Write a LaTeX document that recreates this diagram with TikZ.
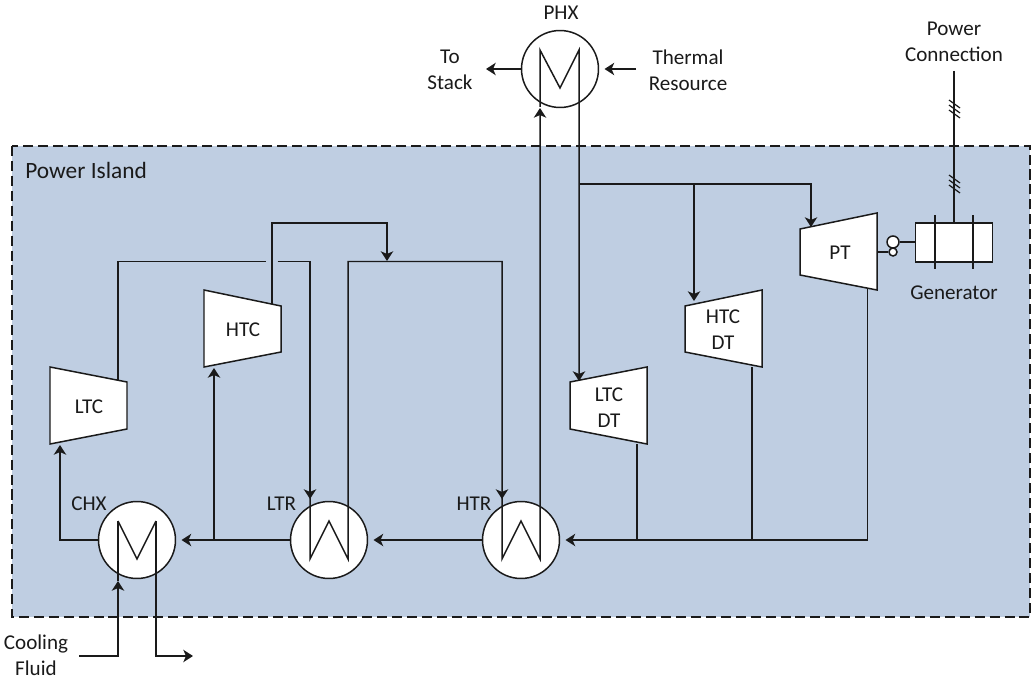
\documentclass[tikz,border=0pt]{standalone}
\usepackage{fontspec}
\setmainfont{Carlito}
\usetikzlibrary{arrows.meta}
\definecolor{island}{HTML}{BFCEE2}
\definecolor{ink}{HTML}{1A1A1A}
\tikzset{
  line/.style={draw=ink,line width=0.85pt},
  flow/.style={line,-{Stealth[length=5.5pt,width=7pt,inset=1.5pt]}},
  hx/.style={line,circle,fill=white,minimum size=1.54cm,inner sep=0pt},
  mach/.style={line,fill=white,line join=miter},
  lab/.style={text=ink,align=center,inner sep=0pt,font=\fontsize{12}{14.7}\selectfont}
}
\begin{document}
\begin{tikzpicture}[x=0.02cm,y=-0.02cm]
\useasboundingbox (0,0) rectangle (1031,679);
\fill[island] (12,146) rectangle (1030,617);
\draw[line,dash pattern=on 5.7pt off 2.8pt] (12,146) rectangle (1030,617);

\node[hx] (phx) at (560,69) {};
\node[hx] (chx) at (137,540) {};
\node[hx] (ltr) at (329,540) {};
\node[hx] (htr) at (521,540) {};

\draw[mach] (204,290) -- (281,306) -- (281,352) -- (204,367) -- cycle;
\draw[mach] (50,367) -- (127,382) -- (127,429) -- (50,444) -- cycle;
\draw[mach] (685,306) -- (762,290) -- (762,367) -- (685,352) -- cycle;
\draw[mach] (570,382) -- (647,367) -- (647,444) -- (570,429) -- cycle;
\draw[mach] (800,229) -- (877,213) -- (877,290) -- (800,275) -- cycle;
\draw[mach] (915.5,223) rectangle (992.5,262);
\draw[line] (935,215) -- (935,269);
\draw[line] (973,215) -- (973,269);

\node[lab] (phxlab) at (561,13) {PHX};
\node[lab] (stack) at (450,70) {To\\Stack};
\node[lab] (thermal) at (688,70) {Thermal\\Resource};
\node[lab] (conn) at (954,41.5) {Power\\Connection};
\node[lab] (gen) at (954,292.5) {Generator};
\node[lab,anchor=west,font=\fontsize{13.3}{15}\selectfont] (island) at (25,170.5) {Power Island};
\node[lab] (chxlab) at (89,504) {CHX};
\node[lab] (ltrlab) at (281.5,504) {LTR};
\node[lab] (htrlab) at (474,504) {HTR};
\node[lab] (cool) at (36,655) {Cooling\\Fluid};
\node[lab] (htc) at (243,330) {HTC};
\node[lab] (ltc) at (89,407) {LTC};
\node[lab] (htcdt) at (723,330) {HTC\\DT};
\node[lab] (ltcdt) at (609,408) {LTC\\DT};
\node[lab] (pt) at (840,253) {PT};

\coordinate (stackend) at (486,69);
\coordinate (thermalin) at (636,69);
\coordinate (coolin) at (79,656);
\coordinate (coolout) at (193,656);
\coordinate (ptout) at (867.5,289);
\coordinate (htcdtout) at (752,367);
\coordinate (htcdtj) at (752,540);
\coordinate (ltcdtout) at (637,444);
\coordinate (ltcdtj) at (637,540);
\coordinate (ltcin) at (60,445);
\coordinate (ltcout) at (118,380);
\coordinate (htcj) at (214,540);
\coordinate (htcin) at (214,368);
\coordinate (htcout) at (272,304);
\coordinate (mixin) at (387,261);
\coordinate (gapl) at (265.5,261.5);
\coordinate (gapr) at (277.5,261.5);
\coordinate (ltrin) at (310,499);
\coordinate (htrin) at (502,499);
\coordinate (phxin) at (540,108);
\coordinate (chxin) at (118,581);
\coordinate (phxj) at (579,184);
\coordinate (ptin) at (811,227);
\coordinate (htcdtin) at (694,301);
\coordinate (ltcdtin) at (579,381);
\coordinate (gentop) at (954,223);
\coordinate (connend) at (954,71);

\draw[line] (118,521) -- (chxin);
\draw[line] (118,521) -- (137,559) -- (156,521);
\draw[flow] (156,521) |- (coolout);
\draw[flow] (310,498) -- (310,559) -- (329,521) -- (348,559) -- (348,261.5) -| (htrin);
\draw[flow] (502,498) -- (502,559) -- (521,521) -- (540,559) -- (phxin);
\draw[flow] (540,107) -- (540,50) -- (560,88) -- (579,50) -- (ltcdtin);

\draw[flow] (phx.west) -- (stackend);
\draw[flow] (thermalin) -- ([xshift=3pt]phx.east);
\draw[flow] (coolin) -| (chxin);
\draw[flow] (htr.west) -- ([xshift=3pt]ltr.east);
\draw[flow] (ltr.west) -- ([xshift=3pt]chx.east);
\draw[flow] (ptout) |- ([xshift=3pt]htr.east);
\draw[line] (htcdtout) -- (htcdtj);
\draw[line] (ltcdtout) -- (ltcdtj);
\draw[flow] (chx.west) -| (ltcin);
\draw[flow] (htcj) -- (htcin);
\draw[line] (ltcout) |- (gapl);
\draw[flow] (gapr) -| (ltrin);
\draw[flow] (htcout) |- (mixin |- 0,223) -- (mixin);
\draw[flow] (phxj) -| (ptin);
\draw[flow] (phxj -| htcdtin) -- (htcdtin);

\draw[line] (connend) -- (gentop);
\foreach \y in {100,105,110,175,180,185}
  \draw[line,line width=0.7pt] (949,\y) -- (960,\y+8);
\node[line,circle,fill=white,minimum size=0.24cm,inner sep=0pt] (shaftb) at (893,242) {};
\node[line,circle,fill=white,minimum size=0.16cm,inner sep=0pt] (shafts) at (893,252) {};
\draw[line] (shaftb.east) -- (915.5,242);
\draw[line] (877,252) -- (shafts.west);
\end{tikzpicture}
\end{document}
